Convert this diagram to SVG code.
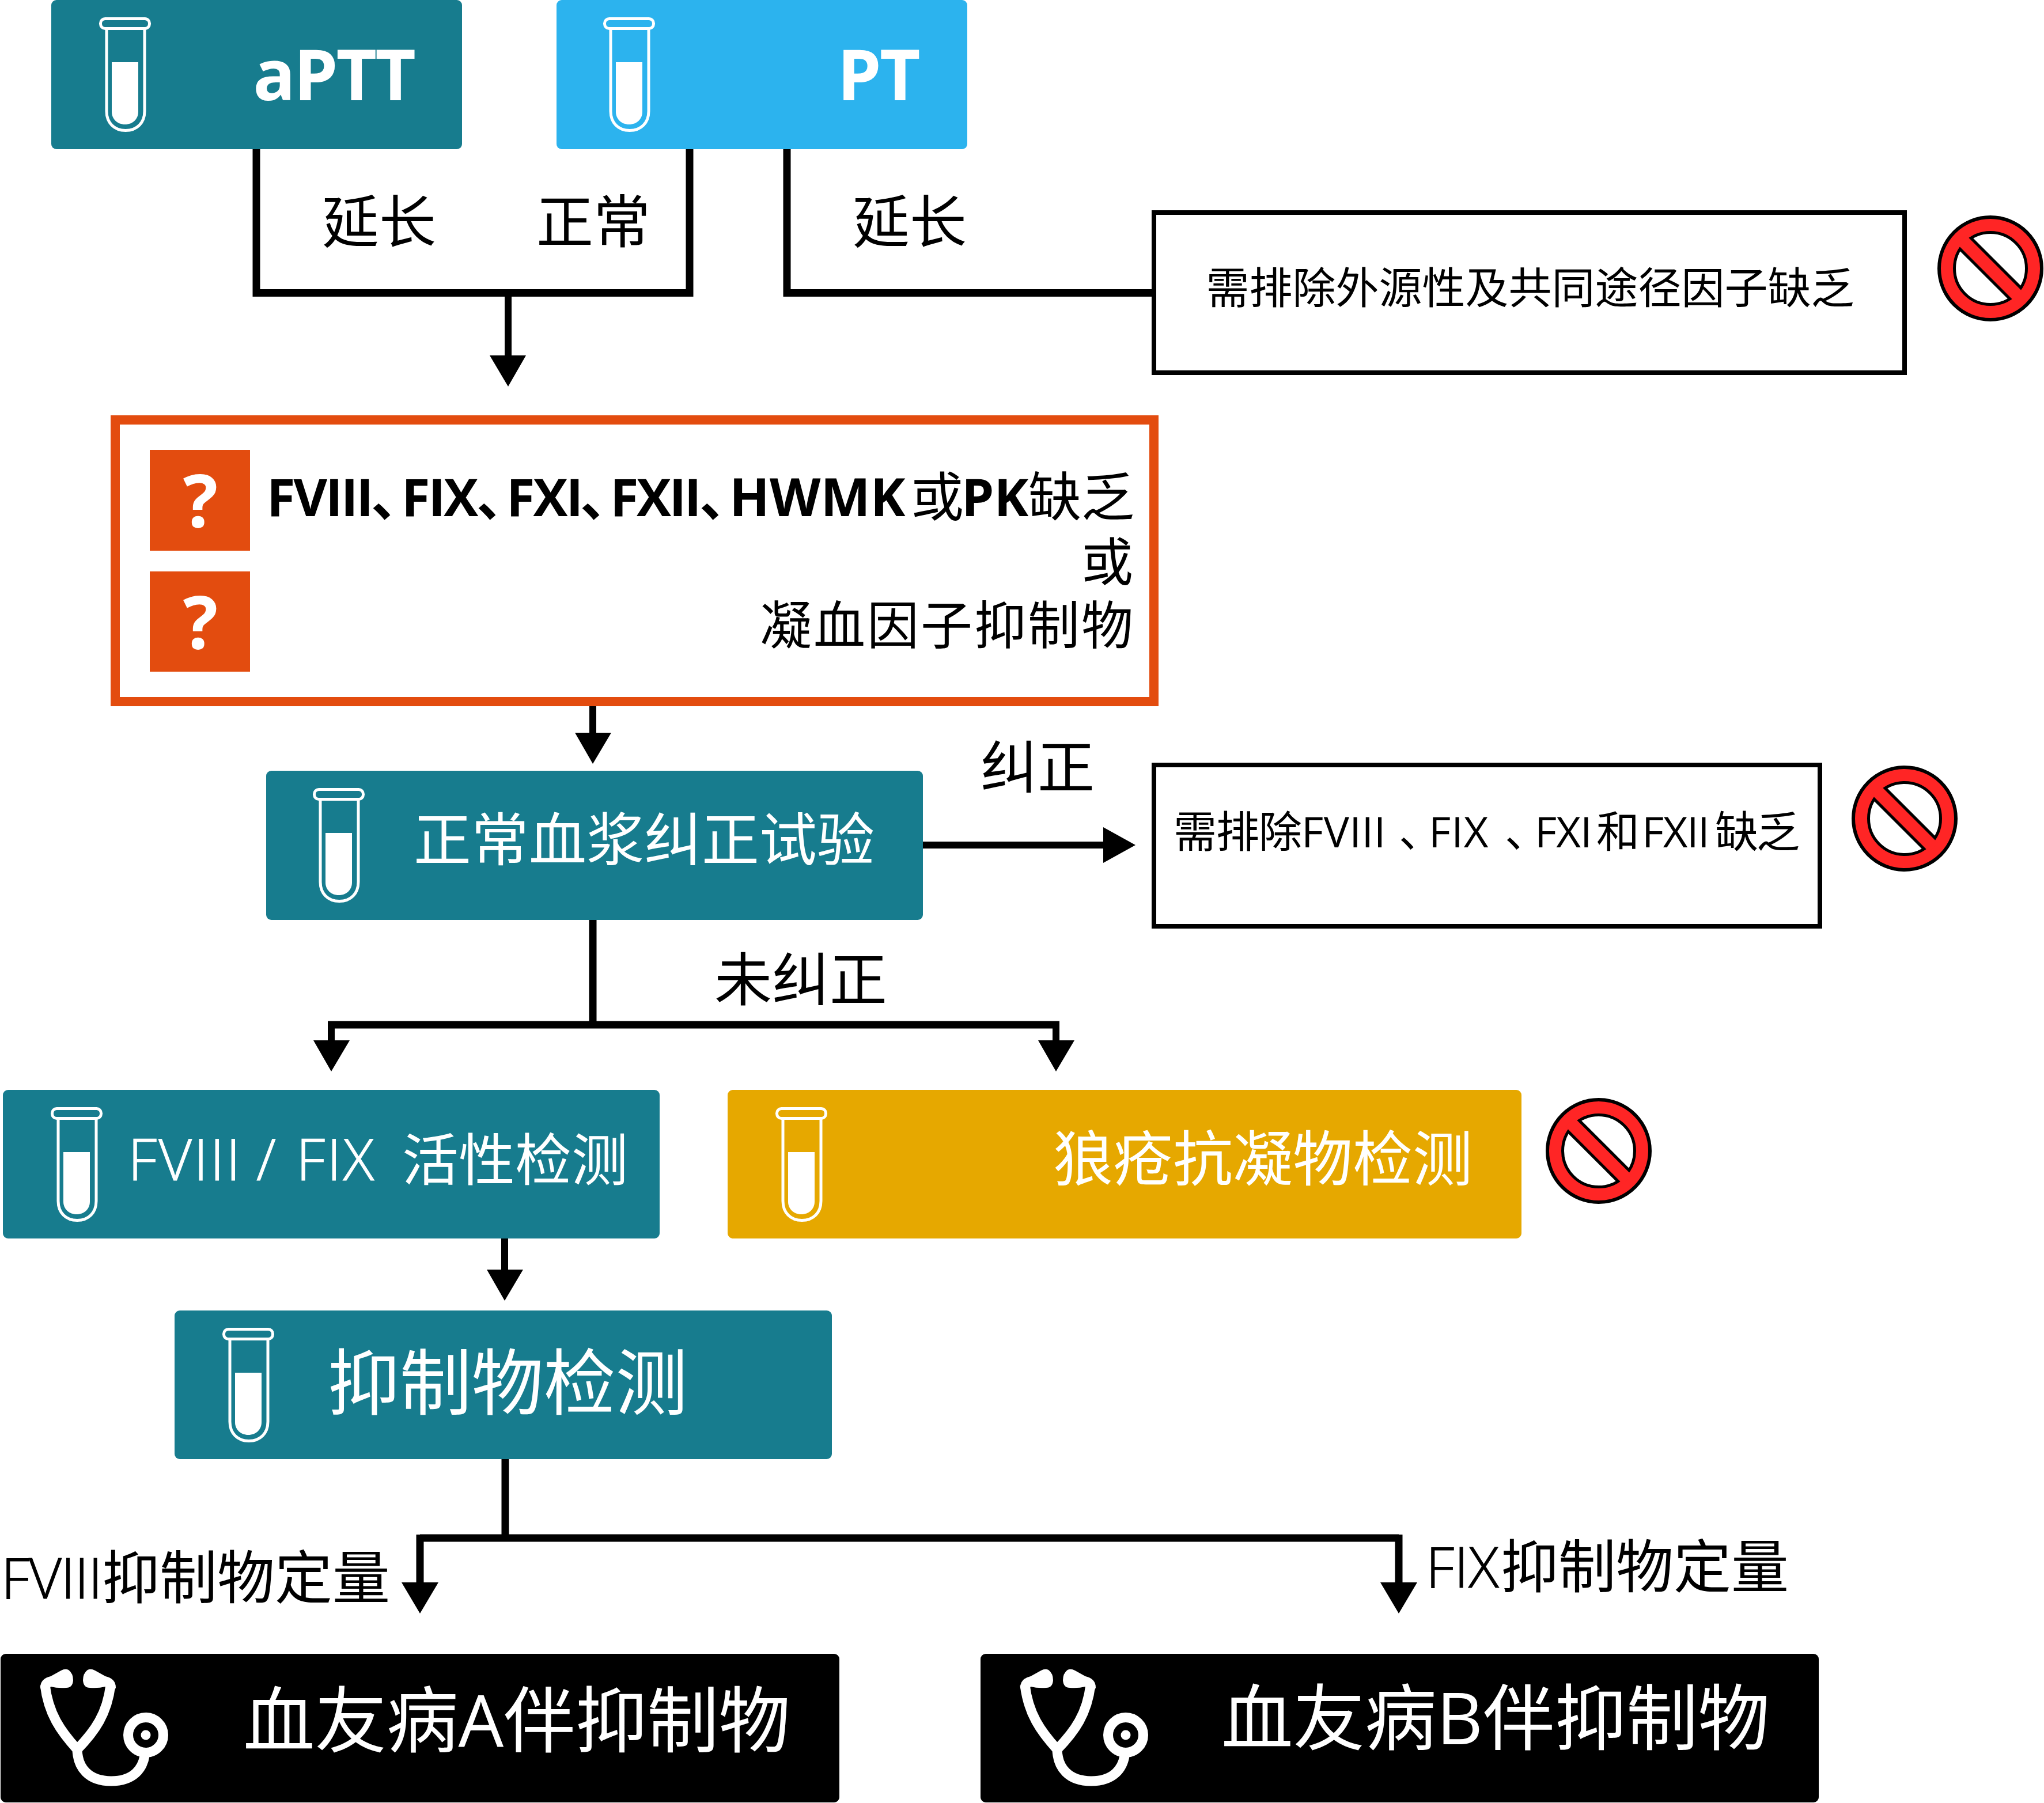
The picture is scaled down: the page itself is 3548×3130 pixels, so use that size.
<svg xmlns="http://www.w3.org/2000/svg" width="3548" height="3130" viewBox="0 0 3548 3130">
<style>
text{font-family:"Open Sans","Noto Sans CJK SC",sans-serif;fill:#000}
.w{fill:#fff}
.m{text-anchor:middle}
.e{text-anchor:end}
.b{font-weight:700}
.l{font-weight:300;stroke:#000;stroke-width:1.200}
.w .l{stroke:#fff}
.c{font-weight:400}
.p{letter-spacing:-38px}
.line{fill:none;stroke:#000;stroke-width:13}
.teal{fill:#177C8E}
.out{fill:#fff;stroke:#000;stroke-width:8}
.head{fill:#000}
</style>
<defs>
<clipPath id="holeclip"><circle cx="0" cy="0" r="63"/></clipPath>
<g id="tube">
<path d="M185 48V193C185 213 198 226.500 218 226.500C238 226.500 251 213 251 193V48" fill="none" stroke="#fff" stroke-width="5"/>
<rect x="174.500" y="32.500" width="85" height="17" rx="8" fill="none" stroke="#fff" stroke-width="5"/>
<path d="M194 108H240V194C240 207 230 216 217 216C204 216 194 207 194 194Z" fill="#fff"/>
</g>
<g id="no">
<circle r="89" fill="#FF2525" stroke="#000" stroke-width="6"/>
<circle r="62.500" fill="#fff" stroke="#000" stroke-width="5"/>
<path d="M-60 -60L60 60" stroke="#000" stroke-width="32" clip-path="url(#holeclip)"/>
<path d="M-50 -50L50 50" stroke="#FF2525" stroke-width="22"/>
</g>
<g id="scope">
<path d="M78 2925C84 2975 105 3005 134 3037C165 3005 186 2975 192 2925" fill="none" stroke="#fff" stroke-width="17"/>
<path d="M134 3035C134 3070 155 3092 193 3092C230 3092 250 3072 252 3040" fill="none" stroke="#fff" stroke-width="17"/>
<circle cx="253" cy="3012" r="30.500" fill="none" stroke="#fff" stroke-width="17"/>
<circle cx="253" cy="3012" r="8.500" fill="#fff"/>
<path d="M70 2930Q70 2914 88 2910L106 2900Q113 2896 119 2899Q127 2905 127 2917Q126 2930 115 2930Q100 2931 88 2928L78 2945Z" fill="#fff"/>
<path d="M201 2930Q201 2914 183 2910L165 2900Q158 2896 152 2899Q144 2905 144 2917Q145 2930 156 2930Q171 2931 183 2928L193 2945Z" fill="#fff"/>
</g>
</defs>
<g id="connectors">
<path class="line" d="M445 259V508.500H1197V259"/>
<path class="line" style="stroke-width:12" d="M882 508V625"/>
<path class="head" d="M850 617H913L882 671Z"/>
<path class="line" d="M1366 259V508.500H2003"/>
<path class="line" style="stroke-width:12" d="M1029 1226V1280"/>
<path class="head" d="M998 1272H1061L1029 1326Z"/>
<path class="line" style="stroke-width:12" d="M1602 1467H1925"/>
<path class="head" d="M1915 1436V1498L1971 1467Z"/>
<path class="line" d="M1029 1597V1779M569 1779H1839"/>
<path class="line" style="stroke-width:12" d="M575 1773V1815M1833 1773V1815"/>
<path class="head" d="M544 1806H607L575 1860ZM1802 1806H1865L1833 1860Z"/>
<path class="line" style="stroke-width:12" d="M876 2150V2215"/>
<path class="head" d="M845 2204H908L876 2258Z"/>
<path class="line" d="M877 2533V2670M729 2670H2428"/>
<path class="line" d="M729 2664V2755M2428 2664V2755"/>
<path class="head" d="M697 2747H761L729 2801ZM2396 2747H2460L2428 2801Z"/>
</g>
<g id="n-aptt">
<rect x="89" y="0" width="713" height="259" rx="9" class="teal"/>
<use href="#tube"/>
<text x="579" y="174" font-size="122" class="w m b" letter-spacing="-3">aPTT</text>
</g>
<g id="n-pt">
<rect x="966" y="0" width="713" height="259" rx="9" fill="#2CB3EE"/>
<use href="#tube" x="875"/>
<text x="1524" y="174" font-size="122" class="w m b" letter-spacing="-3">PT</text>
</g>
<text x="658" y="421" font-size="99" class="m">延长</text>
<text x="1030" y="421" font-size="99" class="m">正常</text>
<text x="1579" y="421" font-size="99" class="m">延长</text>
<g id="n-exclude1">
<rect x="2003" y="369" width="1303" height="278" class="out"/>
<text x="2656" y="527" font-size="75" class="m">需排除外源性及共同途径因子缺乏</text>
</g>
<use id="no1" href="#no" x="3455" y="466"/>
<g id="n-question">
<rect x="200" y="729" width="1803" height="489" fill="#fff" stroke="#E34C0F" stroke-width="16"/>
<rect x="260" y="781" width="174" height="175" fill="#E34C0F"/>
<rect x="260" y="992" width="174" height="174" fill="#E34C0F"/>
<text x="348" y="915" font-size="127" class="w m b">?</text>
<text x="348" y="1126" font-size="127" class="w m b">?</text>
<text y="896" font-size="90" class="b"><tspan x="463" letter-spacing="-3">FVIII</tspan><tspan x="644" font-size="92" class="p">、</tspan><tspan x="697" letter-spacing="-3">FIX</tspan><tspan x="827" font-size="92" class="p">、</tspan><tspan x="879" letter-spacing="-3">FXI</tspan><tspan x="1007" font-size="92" class="p">、</tspan><tspan x="1059" letter-spacing="-3.500">FXII</tspan><tspan x="1214" font-size="92" class="p">、</tspan><tspan x="1266" font-size="91.500">HWMK</tspan><tspan x="1581" font-size="92" class="c" letter-spacing="-6">或</tspan><tspan x="1669">PK</tspan><tspan x="1785" font-size="92" class="c">缺乏</tspan></text>
<text x="1970" y="1008" font-size="90" letter-spacing="3" class="e">或</text>
<text x="1970" y="1118" font-size="90" letter-spacing="3" class="e">凝血因子抑制物</text>
</g>
<g id="n-mix">
<rect x="462" y="1338" width="1140" height="259" rx="9" class="teal"/>
<use href="#tube" x="371" y="1338"/>
<text x="1118" y="1494" font-size="100" class="w m">正常血浆纠正试验</text>
</g>
<text x="1801" y="1368" font-size="99" class="m">纠正</text>
<g id="n-exclude2">
<rect x="2003" y="1328" width="1156" height="280" class="out"/>
<text y="1471" font-size="75"><tspan x="2037" letter-spacing="-1">需排除</tspan><tspan x="2259" font-size="74" letter-spacing="0.500">FVIII</tspan><tspan x="2428" class="p">、</tspan><tspan x="2480" font-size="74" letter-spacing="1">FIX</tspan><tspan x="2612" class="p">、</tspan><tspan x="2664" font-size="74" letter-spacing="-1">FXI</tspan><tspan x="2771" letter-spacing="-2">和</tspan><tspan x="2850" font-size="74" letter-spacing="-1.500">FXII</tspan><tspan x="2977" letter-spacing="-3">缺乏</tspan></text>
</g>
<use id="no2" href="#no" x="3306" y="1421"/>
<text x="1390" y="1737" font-size="100" class="m">未纠正</text>
<g id="n-activity">
<rect x="5" y="1892" width="1140" height="258" rx="9" class="teal"/>
<use href="#tube" x="-84" y="1892"/>
<text y="2049" font-size="100" class="w"><tspan x="222" class="l" letter-spacing="3">FVIII</tspan><tspan x="445" class="l">/</tspan><tspan x="514" class="l" letter-spacing="3">FIX</tspan><tspan x="698" font-size="98">活性检测</tspan></text>
</g>
<g id="n-lupus">
<rect x="1263" y="1892" width="1378" height="258" rx="9" fill="#E6A800"/>
<use href="#tube" x="1174" y="1892"/>
<text x="2192" y="2050" font-size="104" class="w m">狼疮抗凝物检测</text>
</g>
<use id="no3" href="#no" x="2775" y="1998"/>
<g id="n-inhib">
<rect x="303" y="2275" width="1141" height="258" rx="9" class="teal"/>
<use href="#tube" x="214" y="2275"/>
<text x="881" y="2446" font-size="125" class="w m">抑制物检测</text>
</g>
<text y="2775" font-size="98"><tspan x="2" class="l" letter-spacing="-1">FVIII</tspan><tspan x="177" font-size="100">抑制物定量</tspan></text>
<text y="2756" font-size="98"><tspan x="2475" class="l">FIX</tspan><tspan x="2605" font-size="100">抑制物定量</tspan></text>
<g id="n-a">
<rect x="1" y="2871" width="1456" height="258" rx="9" fill="#000"/>
<use href="#scope"/>
<text x="897" y="3032" font-size="124.500" class="w m">血友病A伴抑制物</text>
</g>
<g id="n-b">
<rect x="1702" y="2871" width="1455" height="258" rx="9" fill="#000"/>
<use href="#scope" x="1701"/>
<text x="2596" y="3028" font-size="124.500" class="w m">血友病B伴抑制物</text>
</g>
</svg>
